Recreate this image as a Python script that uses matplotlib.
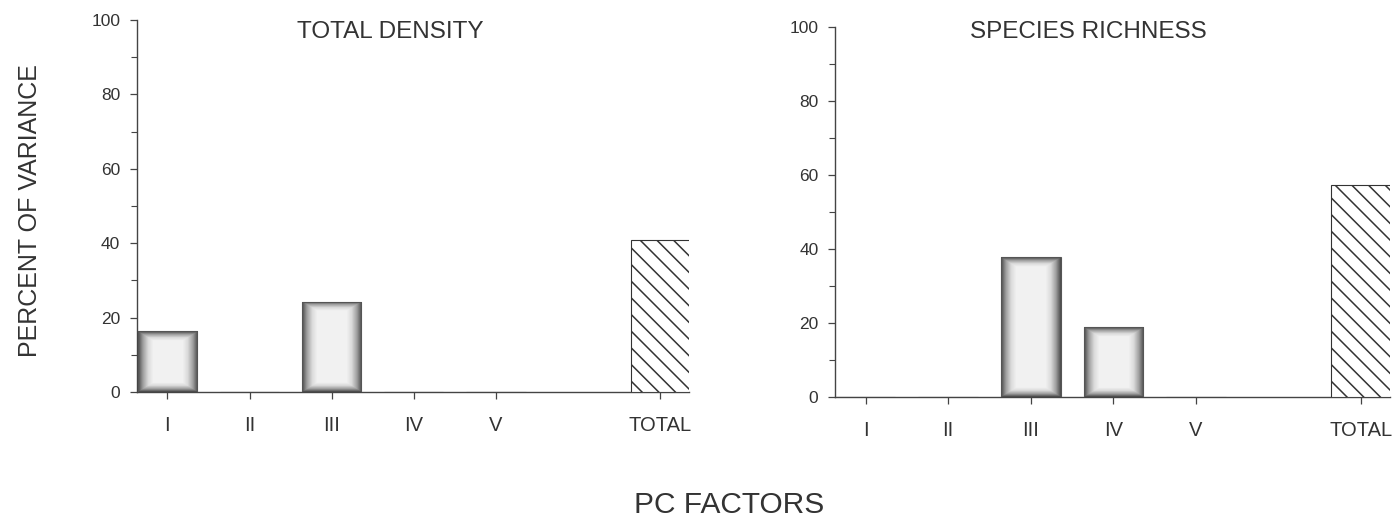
import numpy as np
import matplotlib
matplotlib.use("Agg")
import matplotlib.pyplot as plt
from matplotlib.colors import LinearSegmentedColormap

plt.rcParams['font.family'] = ['Liberation Sans', 'DejaVu Sans']
plt.rcParams['hatch.linewidth'] = 1.1
plt.rcParams['hatch.color'] = '#333333'

# ---- data ----
categories = ["I", "II", "III", "IV", "V", "TOTAL"]
positions = [0, 1, 2, 3, 4, 6]
density_values = [16.3, 0, 24.3, 0, 0, 40.8]
richness_values = [0, 0, 37.8, 18.9, 0, 57.2]
titles = ["TOTAL DENSITY", "SPECIES RICHNESS"]
yticks_major = [0, 20, 40, 60, 80, 100]
yticks_minor = [10, 30, 50, 70, 90]

TXT = '#333333'
cmap = LinearSegmentedColormap.from_list(
    'stip', [(0, '#505050'), (0.3, '#9e9e9e'), (0.65, '#dadada'), (1, '#f2f2f2')])

fig = plt.figure(figsize=(13.99, 5.24), dpi=100)
axes = [fig.add_axes([0.0979, 0.2519, 0.3946, 0.7099]),
        fig.add_axes([0.5969, 0.2424, 0.3967, 0.7061])]


def shade_bar(ax, patch):
    x0, y0 = patch.get_x(), patch.get_y()
    w, h = patch.get_width(), patch.get_height()
    if h <= 0:
        return
    # bar size in display pixels
    p0 = ax.transData.transform((x0, y0))
    p1 = ax.transData.transform((x0 + w, y0 + h))
    wpx, hpx = abs(p1[0] - p0[0]), abs(p1[1] - p0[1])
    nx, ny = int(wpx) + 1, int(hpx) + 1
    U, V = np.meshgrid(np.linspace(0, wpx, nx), np.linspace(0, hpx, ny))
    dx = np.minimum(U, wpx - U)
    dy = np.minimum(V, hpx - V)
    d = np.clip(np.minimum(dx, dy * 1.6) / 15.0, 0, 1)
    img = ax.imshow(d, extent=[x0, x0 + w, y0, y0 + h], origin='lower',
                    cmap=cmap, vmin=0, vmax=1, aspect='auto',
                    interpolation='bilinear', zorder=2)
    img.set_clip_path(patch)


for ax, vals, title, tx in zip(axes, [density_values, richness_values], titles, [390, 1088]):
    ax.set_xlim(-0.37, 6.35)
    ax.set_ylim(0, 100)
    cols = ['none'] * 5 + ['white']
    bars = ax.bar(positions, vals, width=0.72, color=cols,
                  edgecolor=['#555555'] * 5 + ['#333333'], linewidth=0.8, zorder=3)
    bars[-1].set_hatch('\\\\')
    for b, v in zip(list(bars)[:5], vals[:5]):
        if v > 0:
            shade_bar(ax, b)
    ax.set_xticks(positions)
    ax.set_xticklabels(categories, fontsize=14.5, color=TXT)
    ax.set_yticks(yticks_major)
    ax.set_yticks(yticks_minor, minor=True)
    ax.set_yticklabels([str(t) for t in yticks_major], fontsize=12.5, color=TXT)
    ax.tick_params(axis='y', which='major', direction='out', length=5, width=0.9,
                   colors='#444444', labelcolor=TXT, pad=7)
    ax.tick_params(axis='y', which='minor', direction='out', length=4, width=0.8,
                   colors='#444444')
    ax.tick_params(axis='x', direction='out', length=5, width=0.9,
                   colors='#444444', labelcolor=TXT, pad=12)
    for s in ['top', 'right']:
        ax.spines[s].set_visible(False)
    for s in ['left', 'bottom']:
        ax.spines[s].set_color('#444444')
        ax.spines[s].set_linewidth(1.0)
    ax.set_facecolor('none')
    fig.text(tx / 1399, 1 - 32 / 524, title, ha='center', va='center',
             fontsize=17.5, color=TXT)

fig.text(30 / 1399, 1 - 211 / 524, "PERCENT OF VARIANCE", rotation=90,
         ha='center', va='center', fontsize=18, color=TXT)
fig.text(729 / 1399, 1 - 505 / 524, "PC FACTORS", ha='center', va='center',
         fontsize=21.5, color=TXT)

fig.savefig("out.png", dpi=100, facecolor='white')
